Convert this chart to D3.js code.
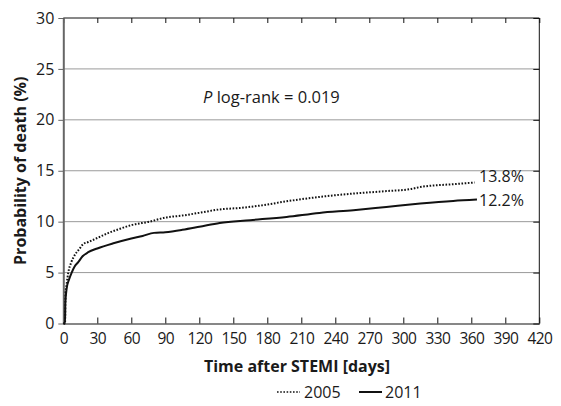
<!DOCTYPE html>
<html><head><meta charset="utf-8">
<script src="https://cdn.jsdelivr.net/npm/d3@7"></script>
<style>body{margin:0;background:#fff}svg{display:block}text{font-family:"Open Sans",sans-serif;fill:#1a1a1a}</style>
</head><body><svg id="c" width="561" height="406"></svg>
<script>
const days2005 = [0, 1.5, 2, 3, 4.4, 7, 10, 14, 17.6, 22, 30, 40, 50, 60, 76, 90, 105, 120, 138, 156, 175, 197, 226, 256, 285, 306, 315, 344, 363];
const vals2005 = [0, 0, 3.0, 3.9, 5.0, 6.0, 6.7, 7.3, 7.8, 8.0, 8.4, 8.9, 9.3, 9.66, 10.0, 10.4, 10.6, 10.87, 11.2, 11.35, 11.6, 12.0, 12.43, 12.76, 13.0, 13.19, 13.4, 13.68, 13.85];
const days2011 = [0, 1.5, 1.8, 3, 5, 7.4, 10, 13, 17, 22, 30, 45, 60, 70, 80, 90, 105, 120, 138, 165, 197, 226, 256, 285, 315, 344, 365];
const vals2011 = [0, 0, 2.0, 3.45, 4.3, 5.0, 5.6, 6.0, 6.6, 7.0, 7.37, 7.9, 8.35, 8.6, 8.9, 8.97, 9.2, 9.5, 9.88, 10.15, 10.47, 10.86, 11.13, 11.45, 11.78, 12.04, 12.17];
const xTicks = [0,30,60,90,120,150,180,210,240,270,300,330,360,390,420];
const yTicks = [0,5,10,15,20,25,30];
const endLabels = ["13.8%", "12.2%"];
const seriesNames = ["2005", "2011"];

const svg = d3.select("#c");
const L = 63.3, R = 539.3, T = 18, B = 323.5;
const x = d3.scaleLinear().domain([0,420]).range([L,R]);
const y = d3.scaleLinear().domain([0,30]).range([B,T]);

// gridlines
svg.append("g").selectAll("line").data(yTicks.filter(v=>v>0&&v<30)).join("line")
  .attr("x1",L).attr("x2",R).attr("y1",d=>y(d)).attr("y2",d=>y(d))
  .attr("stroke","#9a9a9a").attr("stroke-width",1);

// frame
svg.append("line").attr("x1",L).attr("x2",R).attr("y1",T).attr("y2",T).attr("stroke","#111");
svg.append("line").attr("x1",R).attr("x2",R).attr("y1",T).attr("y2",B).attr("stroke","#111");

// bottom axis
const xb = svg.append("g").attr("transform",`translate(0,${B})`)
  .call(d3.axisBottom(x).tickValues(xTicks).tickSize(-6).tickPadding(9).tickSizeOuter(0));
xb.select(".domain").attr("stroke","#111").attr("stroke-width",1.2);
xb.selectAll(".tick line").attr("stroke","#111");
xb.selectAll("text").attr("font-size",15.5).attr("font-family","Open Sans").attr("fill","#1a1a1a").attr("letter-spacing","-0.6");
// top ticks
const xt = svg.append("g").attr("transform",`translate(0,${T})`)
  .call(d3.axisTop(x).tickValues(xTicks).tickSize(-5).tickFormat("").tickSizeOuter(0));
xt.select(".domain").remove();
xt.selectAll(".tick line").attr("stroke","#111");

// left axis
const yl = svg.append("g").attr("transform",`translate(${L},0)`)
  .call(d3.axisLeft(y).tickValues(yTicks).tickSize(5).tickPadding(4).tickSizeOuter(0));
yl.select(".domain").attr("stroke","#666").attr("stroke-width",2);
yl.selectAll(".tick line").attr("stroke","#666");
yl.selectAll("text").attr("font-size",16).attr("font-family","Open Sans").attr("fill","#1a1a1a");
// right ticks
const yr = svg.append("g").attr("transform",`translate(${R},0)`)
  .call(d3.axisRight(y).tickValues(yTicks).tickSize(-6).tickFormat("").tickSizeOuter(0));
yr.select(".domain").remove();
yr.selectAll(".tick line").attr("stroke","#111");

// curves
const line = d3.line().x(d=>x(d[0])).y(d=>y(d[1])).curve(d3.curveMonotoneX);
const d05 = days2005.map((d,i)=>[d,vals2005[i]]);
const d11 = days2011.map((d,i)=>[d,vals2011[i]]);
svg.append("path").attr("d",line(d05)).attr("fill","none").attr("stroke","#111")
  .attr("stroke-width",2).attr("stroke-dasharray","1.6,1.6");
svg.append("path").attr("d",line(d11)).attr("fill","none").attr("stroke","#111")
  .attr("stroke-width",2);

// end labels
svg.append("text").attr("x",479).attr("y",y(vals2005[vals2005.length-1])-4.5).attr("dominant-baseline","middle")
  .attr("font-size",16).text(endLabels[0]);
svg.append("text").attr("x",479).attr("y",y(vals2011[vals2011.length-1])+2).attr("dominant-baseline","middle")
  .attr("font-size",16).text(endLabels[1]);

// p-value
const pt = svg.append("text").attr("x",203).attr("y",103).attr("font-size",16.5);
pt.append("tspan").attr("font-style","italic").text("P");
pt.append("tspan").text(" log-rank = 0.019");

// axis titles
svg.append("text").attr("x",297).attr("y",372).attr("text-anchor","middle")
  .attr("font-size",16).attr("font-weight","bold").text("Time after STEMI [days]");
svg.append("text").attr("transform",`translate(26,${(T+B)/2}) rotate(-90)`).attr("text-anchor","middle")
  .attr("font-size",16).attr("font-weight","bold").text("Probability of death (%)");

// legend
const lg = svg.append("g");
lg.append("line").attr("x1",277).attr("x2",300).attr("y1",392).attr("y2",392).attr("stroke","#111")
  .attr("stroke-width",1.6).attr("stroke-dasharray","1.6,1.6");
lg.append("text").attr("x",304).attr("y",398).attr("font-size",16).text(seriesNames[0]);
lg.append("line").attr("x1",359).attr("x2",382).attr("y1",392).attr("y2",392).attr("stroke","#111").attr("stroke-width",2);
lg.append("text").attr("x",385).attr("y",398).attr("font-size",16).text(seriesNames[1]);
</script></body></html>
